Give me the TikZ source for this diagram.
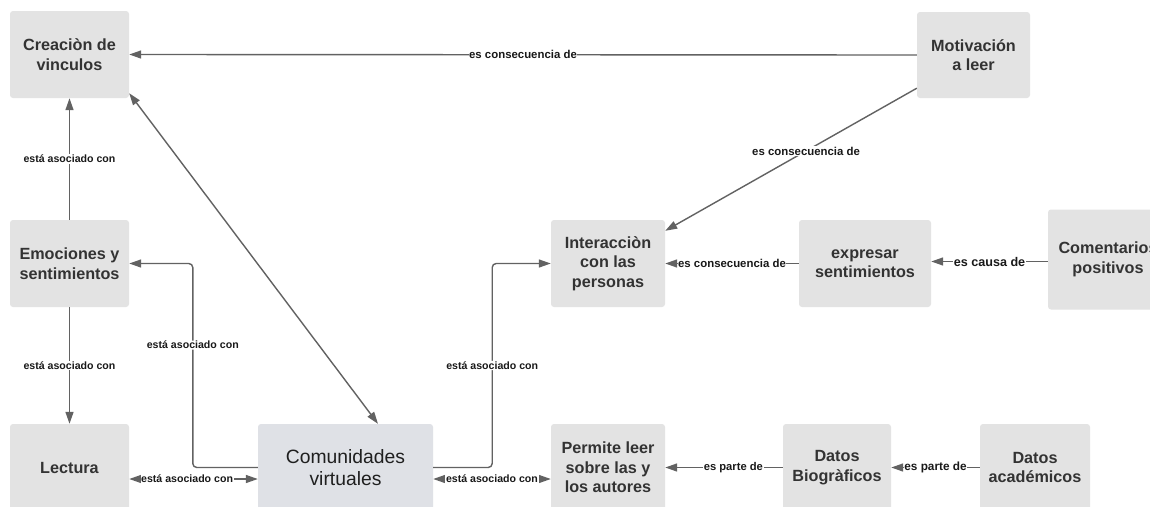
\documentclass[tikz,border=0pt]{standalone}
\usepackage{fontspec}
\setmainfont{Liberation Sans}
\usetikzlibrary{arrows.meta}
\definecolor{boxfill}{HTML}{E3E3E3}
\definecolor{comufill}{HTML}{DFE1E6}
\definecolor{boxtext}{HTML}{333333}
\definecolor{linecol}{HTML}{626262}
\tikzset{
  box/.style={rectangle, rounded corners=3pt, fill=boxfill, draw=none, align=center,
    text=boxtext, font=\fontsize{16.2}{19.5}\selectfont\bfseries, inner sep=0pt},
  comubox/.style={box, fill=comufill, text=black!88, font=\fontsize{19.3}{21.5}\selectfont},
  conn/.style={draw=linecol, line width=1.4pt, -{Triangle[length=12pt,width=8pt]}},
  conn2/.style={draw=linecol, line width=1.4pt, {Triangle[length=12pt,width=8pt]}-{Triangle[length=12pt,width=8pt]}},
  lbl/.style={fill=white, text=black!90, font=\fontsize{10.6}{12}\selectfont\bfseries, inner sep=0.6pt},
  lblc/.style={lbl, font=\fontsize{11.4}{13}\selectfont\bfseries},
  lblk/.style={lbl, font=\fontsize{12.6}{14}\selectfont\bfseries},
  lblp/.style={lbl, font=\fontsize{11.2}{13}\selectfont\bfseries},
  lblq/.style={lbl, font=\fontsize{11.8}{13}\selectfont\bfseries}
}
\begin{document}
\begin{tikzpicture}[x=1pt,y=-1pt]
\useasboundingbox (0,0) rectangle (1150,506);
\clip (0,0) rectangle (1150,506);
\fill[white] (0,0) rectangle (1150,506);
% nodes
\node[box, minimum width=119pt, minimum height=87pt] (crea) at (69.5,54.5) {Creaciòn de\\vinculos};
\node[box, minimum width=113pt, minimum height=86pt] (moti) at (973.5,55) {Motivación\\a leer};
\node[box, minimum width=119pt, minimum height=87pt] (emoc) at (69.5,263.5) {Emociones y\\sentimientos};
\node[box, minimum width=119pt, minimum height=87pt] (lect) at (69.5,467.5) {Lectura};
\node[comubox, minimum width=175pt, minimum height=87pt] (comu) at (345.5,467.5) {Comunidades\\virtuales};
\node[box, minimum width=114pt, minimum height=87pt] (inte) at (608,263.5) {Interacciòn\\con las\\personas};
\node[box, minimum width=114pt, minimum height=87pt] (perm) at (608,467.5) {Permite leer\\sobre las y\\los autores};
\node[box, minimum width=132pt, minimum height=87pt] (expr) at (865,263.5) {expresar\\sentimientos};
\node[box, minimum width=120pt, minimum height=100pt] (come) at (1108,259.5) {Comentarios\\positivos};
\node[box, minimum width=108pt, minimum height=87pt] (biog) at (837,467.5) {Datos\\Biogràficos};
\node[box, minimum width=110pt, minimum height=87pt] (acad) at (1035,467.5) {Datos\\académicos};
\coordinate (cw) at ([yshift=-2pt]come.west);
% connectors
\draw[conn] (moti.west) -- node[lblc, pos=0.5]{es consecuencia de} (crea.east);
\draw[conn] ([yshift=10pt]moti.south west) -- node[lblc, pos=0.44]{es consecuencia de} ([yshift=-11pt]inte.north east);
\draw[conn] (expr.west) -- node[lblc, pos=0.5]{es consecuencia de} (inte.east);
\draw[conn] (cw) -- node[lblk, pos=0.5]{es causa de} (expr.east |- cw);
\draw[conn] (emoc.north) -- node[lbl, pos=0.5]{está asociado con} (crea.south);
\draw[conn] (emoc.south) -- node[lbl, pos=0.5]{está asociado con} (lect.north);
\draw[conn2] ([yshift=5pt]crea.south east) -- ([xshift=32.5pt]comu.north);
\draw[conn, rounded corners=4pt] (comu.west) -- ++(-65,0) |- node[lbl, pos=0.3]{está asociado con} (emoc.east);
\draw[conn, rounded corners=4pt] (comu.east) -- ++(59,0) |- node[lbl, pos=0.25]{está asociado con} (inte.west);
\draw[conn2] ([yshift=-11.5pt]lect.east) -- node[lbl, pos=0.45]{está asociado con} ([yshift=-11.5pt]comu.west);
\draw[conn2] ([yshift=-11.5pt]comu.east) -- node[lbl, pos=0.5]{está asociado con} ([yshift=-11.5pt]perm.west);
\draw[conn] (biog.west) -- node[lblp, pos=0.42]{es parte de} (perm.east);
\draw[conn] (acad.west) -- node[lblq, pos=0.5]{es parte de} (biog.east);
\end{tikzpicture}
\end{document}
